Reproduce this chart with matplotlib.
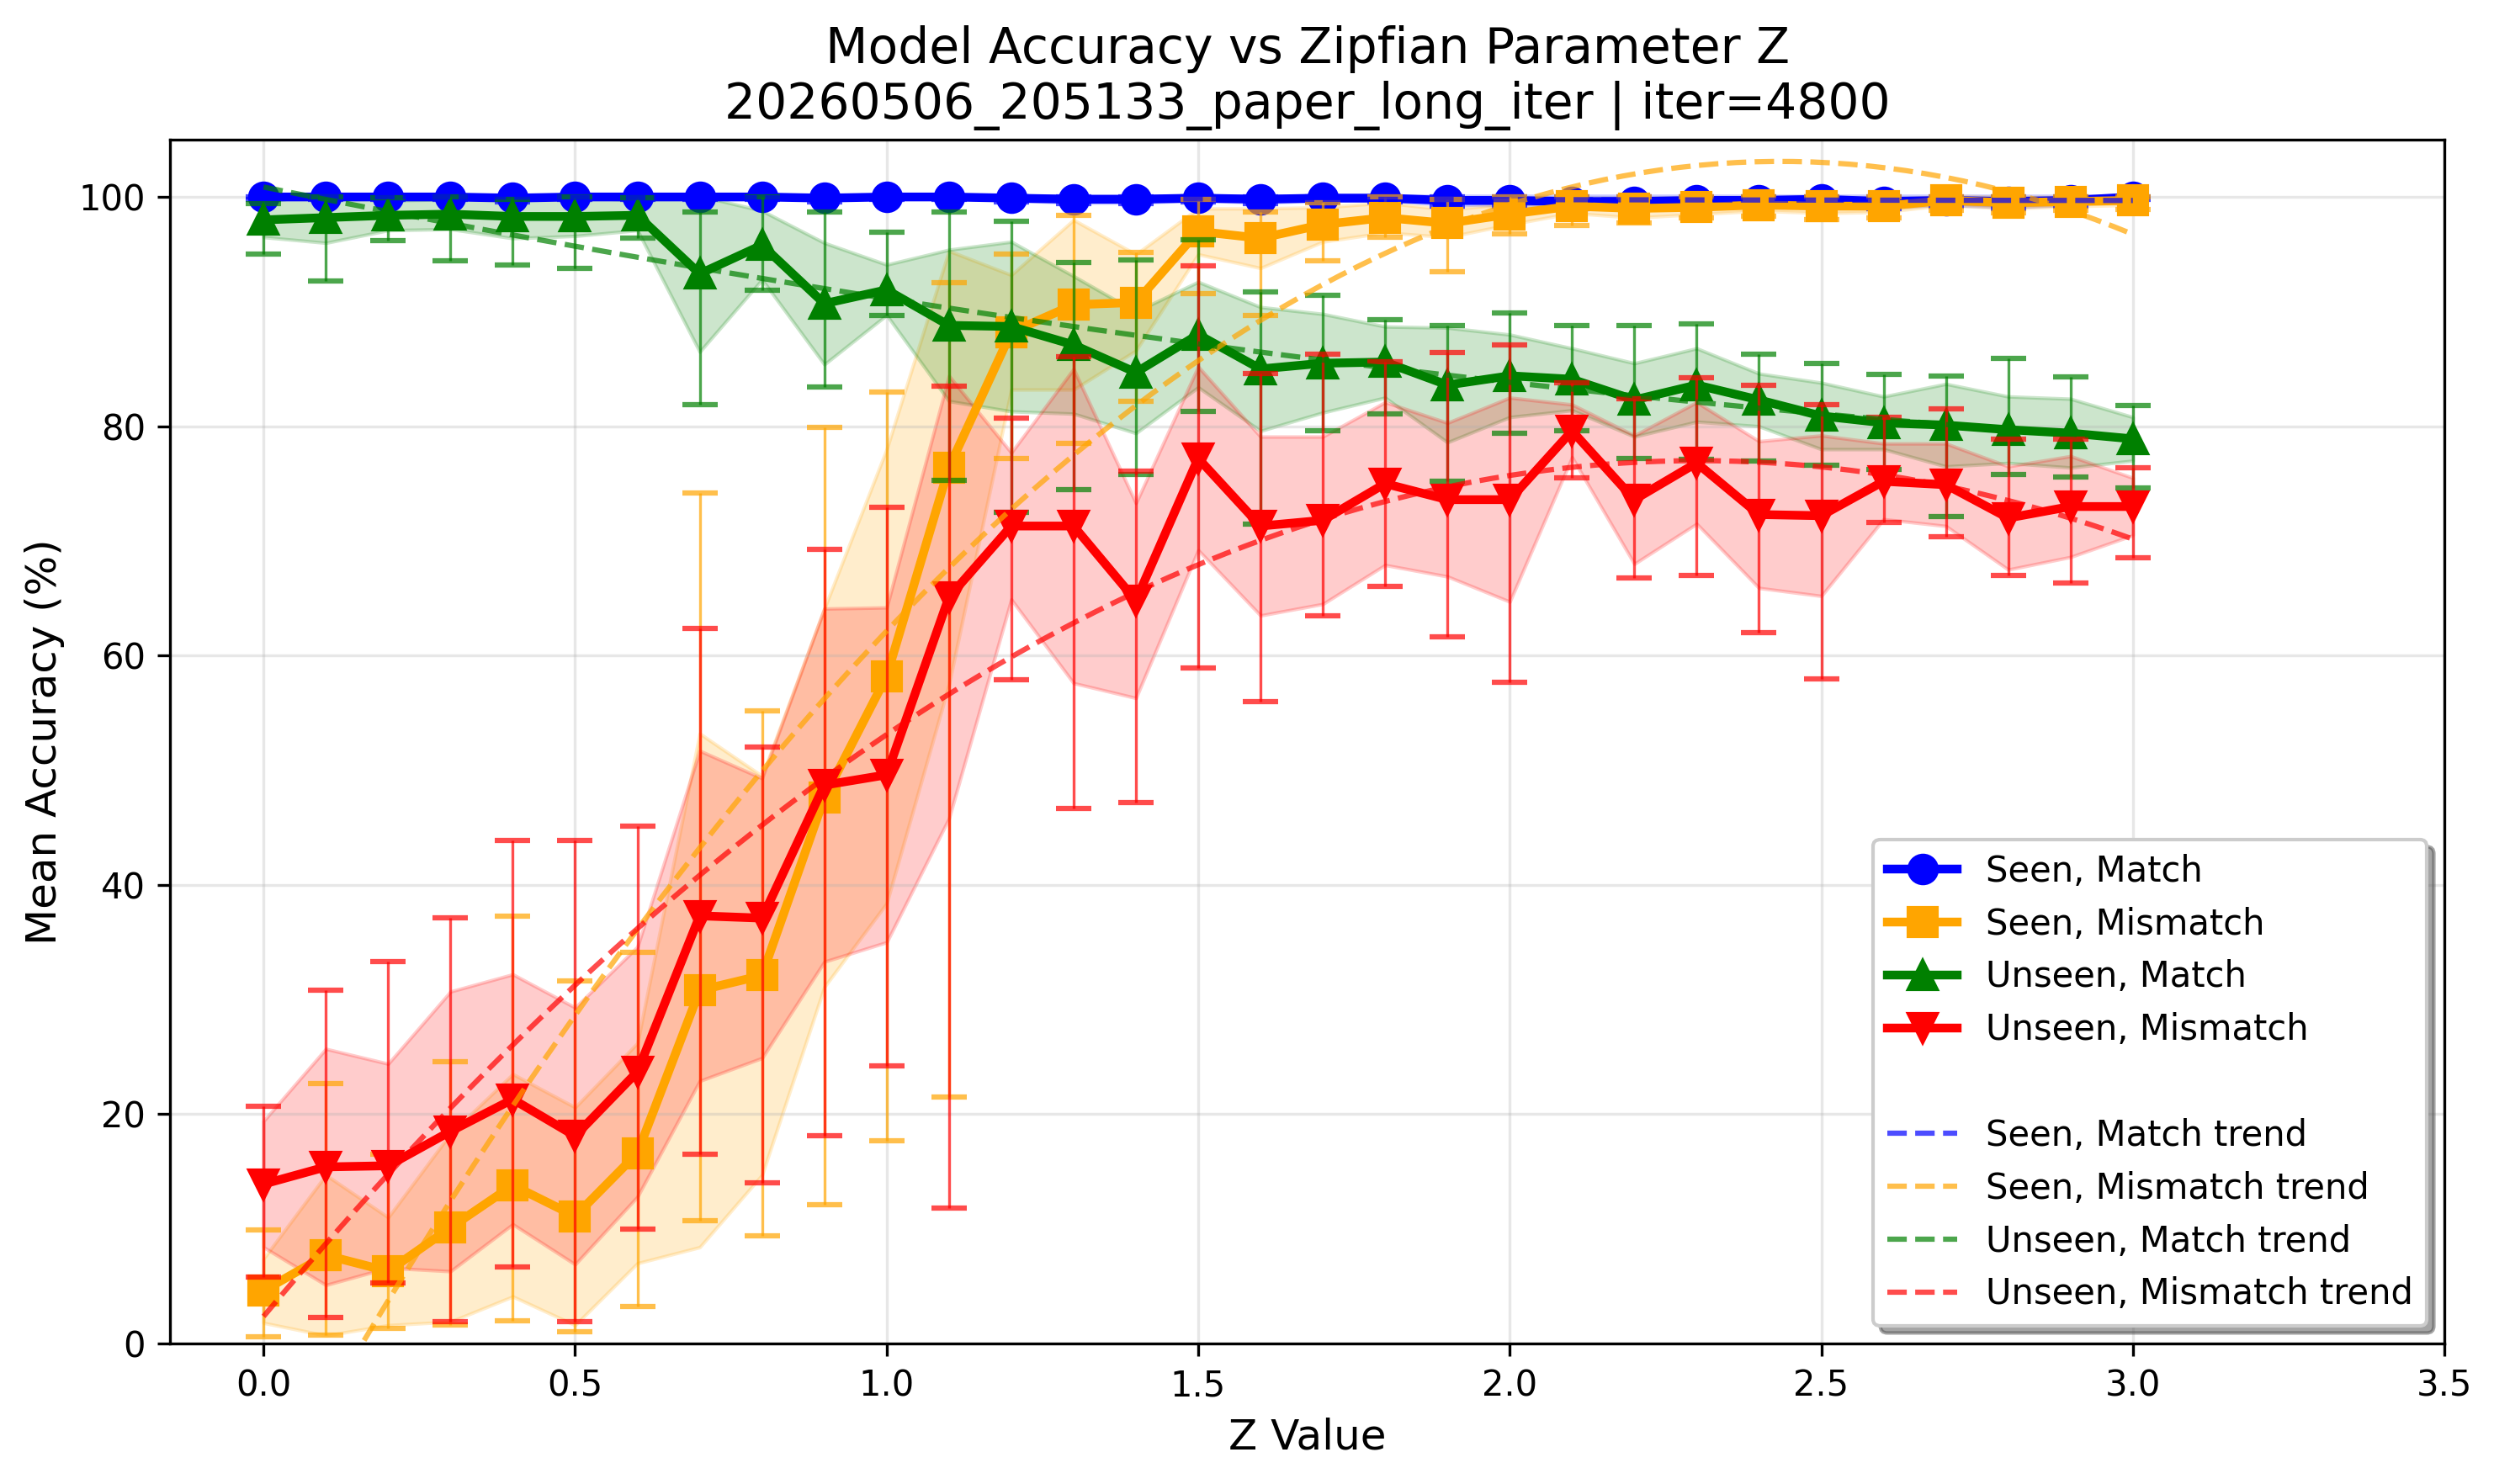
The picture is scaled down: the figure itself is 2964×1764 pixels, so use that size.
import numpy as np
import matplotlib
matplotlib.use("Agg")
import matplotlib.pyplot as plt
from matplotlib.lines import Line2D

z_values = [0.0, 0.1, 0.2, 0.3, 0.4, 0.5, 0.6, 0.7, 0.8, 0.9, 1.0,
            1.1, 1.2, 1.3, 1.4, 1.5, 1.6, 1.7, 1.8, 1.9, 2.0,
            2.1, 2.2, 2.3, 2.4, 2.5, 2.6, 2.7, 2.8, 2.9, 3.0]

# Seen, Match
seen_match_mean = [100.0, 100.0, 100.0, 100.0, 99.9, 100.0, 100.0, 100.0, 100.0, 99.9, 100.0,
                   100.0, 99.9, 99.8, 99.8, 99.9, 99.8, 99.9, 99.9, 99.7, 99.7,
                   99.6, 99.6, 99.7, 99.7, 99.8, 99.6, 99.7, 99.6, 99.7, 100.0]
seen_match_std = [0.1, 0.1, 0.1, 0.1, 0.2, 0.1, 0.1, 0.1, 0.1, 0.2, 0.1,
                  0.1, 0.2, 0.3, 0.3, 0.2, 0.3, 0.2, 0.2, 0.4, 0.4,
                  0.5, 0.5, 0.4, 0.4, 0.3, 0.5, 0.4, 0.5, 0.4, 0.1]
seen_match_lo = [99.8, 99.8, 99.8, 99.8, 99.6, 99.8, 99.8, 99.8, 99.8, 99.6, 99.8,
                 99.8, 99.6, 99.4, 99.4, 99.6, 99.4, 99.6, 99.6, 99.2, 99.2,
                 99.0, 99.0, 99.2, 99.2, 99.4, 99.0, 99.2, 99.0, 99.2, 99.8]
seen_match_hi = [100.0] * 31

# Seen, Mismatch
seen_mis_mean = [4.6, 7.7, 6.3, 10.1, 13.8, 11.1, 16.6, 30.8, 32.1, 47.6, 58.2,
                 76.4, 88.2, 90.6, 90.8, 97.0, 96.4, 97.6, 98.2, 97.7, 98.5,
                 99.2, 99.0, 99.1, 99.3, 99.2, 99.2, 99.7, 99.5, 99.6, 99.7]
seen_mis_std = [2.8, 7.0, 4.7, 8.2, 9.7, 9.5, 9.6, 22.4, 17.4, 16.5, 19.8,
                18.9, 5.0, 7.4, 4.2, 2.0, 2.6, 1.5, 1.3, 1.2, 0.9,
                0.6, 0.8, 0.6, 0.5, 0.6, 0.5, 0.4, 0.5, 0.4, 0.4]
seen_mis_lo = [0.6, 0.7, 1.3, 1.6, 2.0, 1.0, 3.2, 10.7, 9.4, 12.1, 17.7,
               21.5, 77.2, 78.5, 82.2, 91.6, 89.7, 94.4, 96.5, 93.5, 96.8,
               97.5, 97.7, 98.2, 98.3, 98.0, 98.2, 98.8, 98.6, 98.8, 98.9]
seen_mis_hi = [9.9, 22.7, 16.5, 24.6, 37.3, 31.6, 34.1, 74.2, 55.2, 79.9, 83.0,
               92.5, 95.0, 98.4, 95.2, 99.8, 98.7, 99.5, 100.0, 99.8, 100.0,
               100.0, 100.0, 100.0, 100.0, 100.0, 100.0, 100.0, 100.0, 100.0, 100.0]

# Unseen, Match
unseen_match_mean = [98.0, 98.2, 98.4, 98.5, 98.3, 98.3, 98.4, 93.3, 95.8, 90.7, 91.9,
                     88.8, 88.7, 87.1, 84.7, 88.0, 85.0, 85.5, 85.6, 83.6, 84.4,
                     84.1, 82.3, 83.6, 82.3, 80.9, 80.3, 80.1, 79.7, 79.4, 78.9]
unseen_match_std = [1.5, 2.2, 1.3, 1.3, 1.9, 1.7, 1.3, 6.8, 3.0, 5.3, 2.2,
                    6.6, 7.4, 6.0, 5.3, 4.6, 5.4, 4.3, 3.1, 5.0, 3.6,
                    2.7, 3.2, 3.2, 2.3, 2.9, 2.3, 3.6, 2.9, 3.0, 1.9]
unseen_match_lo = [95.0, 92.7, 96.2, 94.4, 94.1, 93.8, 96.4, 81.9, 91.9, 83.4, 89.7,
                   75.3, 72.5, 74.5, 75.8, 81.3, 71.5, 79.6, 81.1, 75.2, 79.4,
                   79.6, 77.2, 77.1, 77.0, 76.6, 76.2, 72.1, 75.8, 75.6, 74.6]
unseen_match_hi = [99.4, 100.0, 99.9, 100.0, 99.8, 100.0, 99.9, 98.7, 100.0, 98.7, 96.9,
                   98.7, 97.9, 94.3, 94.5, 96.3, 91.7, 91.4, 89.3, 88.8, 89.9,
                   88.8, 88.8, 88.9, 86.3, 85.5, 84.5, 84.4, 85.9, 84.3, 81.8]

# Unseen, Mismatch
unseen_mis_mean = [13.9, 15.4, 15.5, 18.5, 21.3, 18.1, 23.7, 37.3, 37.1, 48.7, 49.6,
                   65.1, 71.3, 71.3, 64.8, 77.2, 71.3, 71.8, 75.0, 73.6, 73.6,
                   79.6, 73.6, 76.8, 72.3, 72.2, 75.2, 74.9, 72.0, 73.0, 73.0]
unseen_mis_std = [5.5, 10.3, 8.9, 12.2, 10.9, 11.2, 10.9, 14.4, 12.2, 15.4, 14.6,
                  19.3, 6.4, 13.7, 8.5, 8.0, 7.8, 7.3, 7.1, 6.7, 8.9,
                  2.3, 5.6, 5.3, 6.4, 7.0, 3.3, 3.6, 4.5, 4.4, 2.5]
unseen_mis_lo = [5.8, 2.3, 5.3, 1.9, 6.7, 1.9, 10.0, 16.5, 14.0, 18.1, 24.2,
                 11.8, 57.9, 46.7, 47.2, 58.9, 56.0, 63.5, 66.0, 61.6, 57.7,
                 75.5, 66.8, 67.0, 62.0, 58.0, 71.6, 70.4, 67.0, 66.3, 68.5]
unseen_mis_hi = [20.7, 30.8, 33.3, 37.1, 43.9, 43.9, 45.1, 62.4, 52.0, 69.3, 72.9,
                 83.5, 80.7, 86.1, 76.1, 94.0, 84.6, 86.3, 85.6, 86.4, 87.1,
                 83.8, 82.4, 84.2, 83.6, 81.9, 80.8, 81.5, 78.9, 78.9, 76.4]

labels = ["Seen, Match", "Seen, Mismatch", "Unseen, Match", "Unseen, Mismatch"]
colors = ["blue", "orange", "green", "red"]
markers = ["o", "s", "^", "v"]
means = [seen_match_mean, seen_mis_mean, unseen_match_mean, unseen_mis_mean]
stds = [seen_match_std, seen_mis_std, unseen_match_std, unseen_mis_std]
lows = [seen_match_lo, seen_mis_lo, unseen_match_lo, unseen_mis_lo]
highs = [seen_match_hi, seen_mis_hi, unseen_match_hi, unseen_mis_hi]

fig, ax = plt.subplots(figsize=(9.88, 5.88), dpi=300)
fig.subplots_adjust(left=0.0682, right=0.9801, bottom=0.0947, top=0.9059)

z = np.array(z_values)
line_handles = []
trend_handles = []
for label, color, marker, m, s, lo, hi in zip(labels, colors, markers, means, stds, lows, highs):
    m = np.array(m)
    s = np.array(s)
    lo = np.array(lo)
    hi = np.array(hi)
    h, = ax.plot(z, m, marker=marker, color=color, linewidth=2.5, markersize=8, label=label)
    ax.fill_between(z, m - s, m + s, color=color, alpha=0.2)
    ax.errorbar(z, m, yerr=[m - lo, hi - m], fmt="none", ecolor=color, alpha=0.7,
                elinewidth=0.8, capsize=5, capthick=1.5)
    line_handles.append(h)

# quadratic trend per condition
z_fit = np.linspace(0, 3, 100)
for label, color, m in zip(labels, colors, means):
    coef = np.polyfit(z, m, 2)
    t, = ax.plot(z_fit, np.polyval(coef, z_fit), "--", color=color, alpha=0.7,
                 linewidth=1.5, label=f"{label} trend")
    trend_handles.append(t)

blank = Line2D([], [], color="none", label=" ")
ax.legend(handles=line_handles + [blank] + trend_handles, loc="lower right",
          fontsize=10, shadow=True, fancybox=True)

ax.set_xlim(-0.15, 3.5)
ax.set_ylim(0, 105)
ax.set_xticks([0.0, 0.5, 1.0, 1.5, 2.0, 2.5, 3.0, 3.5])
ax.set_xlabel("Z Value", fontsize=12)
ax.set_ylabel("Mean Accuracy (%)", fontsize=12)
ax.set_title("Model Accuracy vs Zipfian Parameter Z\n20260506_205133_paper_long_iter | iter=4800",
             fontsize=14)
ax.grid(True, alpha=0.3)

plt.savefig("out.png", dpi=300)
